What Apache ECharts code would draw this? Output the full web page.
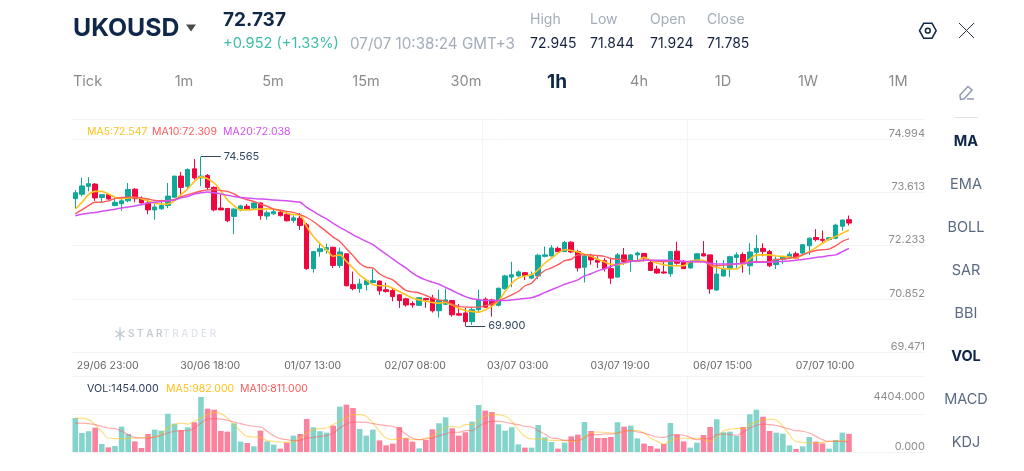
<!DOCTYPE html>
<html>
<head>
<meta charset="utf-8">
<style>html,body{margin:0;padding:0;background:#fff;overflow:hidden}#chart{width:1024px;height:471px}</style>
<script src="https://cdn.jsdelivr.net/npm/echarts@6/dist/echarts.min.js"></script>
</head>
<body>
<div id="chart"></div>
<script>
// Hourly candles as [open, close, low, high]
const candles = [
[73.41,73.57,73.15,73.65],[73.53,73.76,73.47,73.99],[73.75,73.82,73.61,74.00],[73.81,73.43,73.35,73.84],[73.44,73.52,73.31,73.53],
[73.52,73.40,73.38,73.54],[73.22,73.31,73.20,73.43],[73.27,73.35,73.08,73.43],[73.35,73.66,73.31,73.84],[73.67,73.41,73.31,73.70],
[73.41,73.29,73.28,73.47],[73.29,73.10,72.98,73.38],[73.10,73.18,72.83,73.29],[73.13,73.22,73.10,73.38],[73.22,73.48,73.15,73.84],
[73.45,74.03,73.43,74.04],[74.03,73.72,73.47,74.14],[73.75,74.21,73.65,74.25],[74.23,73.98,73.93,74.50],[73.98,74.03,73.75,74.565],
[74.05,73.72,73.65,74.09],[73.72,73.10,73.06,73.75],[73.15,73.10,73.09,73.52],[73.14,72.80,72.76,73.15],[72.92,73.12,72.43,73.15],
[73.10,73.21,73.06,73.24],[73.20,73.11,73.08,73.26],[73.15,73.29,73.10,73.31],[73.29,72.94,72.83,73.31],[72.93,73.02,72.83,73.08],
[72.99,73.05,72.97,73.10],[73.04,72.94,72.92,73.10],[72.98,72.80,72.78,73.06],[72.81,72.88,72.74,72.95],[72.87,72.67,72.55,73.01],
[72.69,71.48,71.45,72.74],[71.48,71.95,71.37,71.97],[71.95,72.03,71.81,72.19],[72.00,72.06,71.89,72.17],[72.07,71.57,71.50,72.08],
[71.57,71.94,71.50,72.06],[71.89,71.01,70.99,71.91],[71.04,70.93,70.88,71.40],[70.93,71.06,70.82,71.20],[71.04,71.15,70.88,71.17],
[71.10,71.15,71.09,71.48],[71.14,70.87,70.76,71.15],[70.90,70.85,70.82,71.09],[70.88,70.71,70.58,70.93],[70.76,70.60,70.40,70.77],
[70.65,70.48,70.43,70.68],[70.52,70.48,70.40,70.58],[70.47,70.68,70.46,70.69],[70.66,70.62,70.40,70.68],[70.67,70.32,70.27,70.76],
[70.32,70.60,70.13,70.90],[70.50,70.62,70.48,70.93],[70.60,70.21,70.16,70.62],[70.24,70.20,70.18,70.51],[70.26,70.02,69.90,70.40],
[70.02,70.35,69.93,70.42],[70.35,70.62,70.26,70.90],[70.64,70.42,70.40,70.69],[70.62,70.48,70.16,70.65],[70.47,70.94,70.44,70.96],
[70.93,71.28,70.90,71.31],[71.25,71.31,70.97,71.67],[71.28,71.39,71.26,71.43],[71.37,71.29,71.17,71.39],[71.22,71.31,71.19,71.40],
[71.28,71.85,71.19,71.89],[71.82,71.86,71.79,72.09],[71.83,72.05,71.82,72.13],[72.04,71.95,71.94,72.09],[71.95,72.20,71.94,72.24],
[72.21,71.94,71.91,72.24],[71.95,71.50,71.40,72.00],[71.52,71.83,71.10,71.86],[71.83,71.72,71.59,71.89],[71.72,71.66,71.50,71.82],
[71.70,71.48,71.40,71.77],[71.48,71.22,71.06,71.78],[71.25,71.86,71.22,71.91],[71.86,71.68,71.59,72.05],[71.68,71.86,71.40,71.88],
[71.86,71.91,71.72,71.95],[71.90,71.77,71.68,71.91],[71.65,71.43,71.42,71.72],[71.47,71.36,71.34,71.56],[71.39,71.36,71.34,71.72],
[71.34,71.95,71.26,71.96],[71.96,71.63,71.59,72.22],[71.66,71.48,71.47,71.72],[71.50,71.68,71.48,71.71],[71.68,71.89,71.67,71.90],
[71.89,71.83,71.82,72.24],[71.86,70.92,70.79,71.87],[70.89,71.33,70.88,71.72],[71.28,71.48,71.26,71.72],[71.48,71.81,71.25,71.83],
[71.79,71.86,71.50,71.93],[71.87,71.61,71.37,71.93],[71.56,71.94,71.31,72.18],[71.93,72.04,71.63,72.41],[72.04,71.95,71.82,72.18],
[71.95,71.56,71.52,72.00],[71.59,71.74,71.47,71.82],[71.74,71.80,71.61,71.83],[71.77,71.88,71.74,71.95],[71.89,71.77,71.74,71.95],
[71.91,72.14,71.88,72.16],[72.11,72.32,71.86,72.34],[72.34,72.28,72.23,72.57],[72.29,72.26,72.18,72.53],[72.28,72.33,72.26,72.35],
[72.32,72.68,72.29,72.72],[72.65,72.82,72.53,72.83],[72.83,72.737,72.67,72.945]
];
const ma5 = [
73.12,73.31,73.52,73.61,73.61,73.54,73.45,73.41,73.43,73.44,73.41,73.35,73.28,73.26,73.26,73.35,73.52,73.68,73.88,74.01,
73.96,73.84,73.63,73.38,73.22,73.10,73.10,73.11,73.12,73.13,73.12,73.08,73.01,72.97,72.95,72.64,72.37,72.17,72.00,71.82,
71.86,71.68,71.50,71.31,71.17,71.04,71.01,71.01,70.94,70.85,70.76,70.67,70.62,70.58,70.55,70.53,70.55,70.48,70.39,70.33,
70.30,70.28,70.35,70.44,70.59,70.85,71.08,71.22,71.28,71.31,71.45,71.63,71.77,71.91,72.00,71.98,71.94,71.88,71.82,71.74,
71.67,71.60,71.59,71.63,71.68,71.70,71.79,71.71,71.63,71.59,71.56,71.56,71.56,71.68,71.72,71.71,71.59,71.51,71.48,71.47,
71.47,71.61,71.74,71.86,71.86,71.86,71.83,71.82,71.80,71.77,71.86,71.95,72.06,72.18,72.29,72.37,72.46,72.547
];
const ma10 = [
72.99,73.10,73.22,73.31,73.31,73.35,73.41,73.44,73.45,73.45,73.43,73.40,73.36,73.35,73.35,73.39,73.46,73.52,73.57,73.62,
73.65,73.66,73.63,73.61,73.54,73.44,73.38,73.33,73.26,73.20,73.12,73.09,73.06,73.03,72.97,72.89,72.78,72.64,72.50,72.35,
72.23,72.03,71.84,71.63,71.52,71.50,71.34,71.24,71.17,71.02,70.88,70.84,70.81,70.74,70.67,70.62,70.58,70.50,70.44,70.42,
70.42,70.42,70.46,70.51,70.60,70.67,70.76,70.85,71.01,71.08,71.28,71.43,71.50,71.59,71.70,71.74,71.86,71.86,71.86,71.84,
71.82,71.76,71.74,71.73,71.70,71.69,71.71,71.71,71.68,71.67,71.69,71.70,71.68,71.67,71.67,71.67,71.59,71.56,71.57,71.59,
71.61,71.63,71.65,71.68,71.67,71.68,71.73,71.74,71.77,71.80,71.86,71.93,71.98,72.00,72.02,72.11,72.23,72.309
];
const ma20 = [
72.94,72.98,73.01,73.03,73.06,73.09,73.12,73.15,73.18,73.21,73.24,73.29,73.31,73.33,73.35,73.37,73.43,73.47,73.54,73.57,
73.59,73.57,73.54,73.50,73.47,73.44,73.43,73.41,73.40,73.39,73.37,73.36,73.35,73.33,73.31,73.17,73.06,72.95,72.85,72.73,
72.62,72.52,72.41,72.32,72.23,72.14,72.01,71.88,71.75,71.62,71.50,71.36,71.25,71.17,71.11,71.05,70.96,70.88,70.79,70.71,
70.65,70.63,70.60,70.60,70.60,70.60,70.62,70.64,70.66,70.68,70.74,70.82,70.90,70.97,71.05,71.11,71.17,71.28,71.34,71.42,
71.47,71.54,71.61,71.65,71.68,71.70,71.71,71.71,71.71,71.71,71.71,71.70,71.68,71.68,71.68,71.67,71.63,71.61,71.61,71.61,
71.61,71.63,71.65,71.66,71.66,71.66,71.67,71.68,71.69,71.71,71.73,71.76,71.79,71.81,71.84,71.86,71.95,72.038
];
const volume = [
2720,1520,1660,1950,640,370,480,2030,1440,850,320,1440,1790,1710,3070,2270,1740,1980,2380,4404,
3470,3390,1680,1630,2300,830,720,450,1710,850,590,270,750,1310,1440,2640,1980,1660,1550,2110,
3630,3790,3520,1840,1310,1790,930,530,670,2000,1120,830,290,960,1820,2300,2780,1900,1310,1580,
2430,3760,3310,3200,2220,1710,1980,610,350,350,2160,1170,800,270,750,1250,1390,2400,1680,1120,
1120,1200,2380,2030,2110,1090,670,480,270,640,2320,1390,850,350,750,1360,2000,2620,1580,1630,
1280,2000,3020,3390,2830,1680,1550,1470,530,240,450,1200,830,690,270,960,1550,1454
];
const volMa5 = [
2720,2720,2590,2190,1660,1120,1070,1070,1070,1120,1120,1170,1170,1440,1920,2190,2320,2240,2460,2720,
2990,3180,3070,2720,2190,1660,1250,1200,1170,910,850,800,770,850,1120,1520,1790,1870,1920,2190,
2460,2720,2990,2990,2860,2320,1660,1120,990,1070,1120,990,990,1120,1250,1660,1980,2060,1980,2190,
2190,2510,2860,2990,2990,2860,2460,1790,1250,1040,1070,990,930,930,930,850,910,1170,1520,1600,
1580,1520,1520,1660,1740,1710,1520,1120,850,640,910,1070,1120,1070,1120,990,850,1170,1660,1840,
1870,1870,2190,2400,2590,2640,2540,2060,1390,850,770,720,720,770,850,850,910,982
];
const volMa10 = [
2320,2320,2270,2190,2060,1920,1870,1660,1390,1170,1120,1120,1200,1340,1520,1660,1710,1710,1920,2320,
2640,2670,2640,2540,2400,2270,2140,2060,2000,1660,1310,1070,990,910,930,1120,1170,1250,1310,1520,
1920,2240,2400,2400,2380,2270,2190,2110,2060,1790,1440,1120,990,1040,1120,1310,1440,1580,1580,1710,
1710,2060,2320,2460,2460,2380,2270,2190,2060,2000,1710,1440,1120,1070,930,930,930,1120,1390,1390,
1440,1440,1520,1660,1710,1600,1520,1340,1200,1170,1340,1390,1340,1170,990,1070,1070,1390,1440,1390,
1340,1580,1920,2140,2240,2190,2140,1980,1840,1710,1660,1520,1250,990,850,850,850,811
];

// Text drawn around the plots
const priceTickLabels = ['69.471', '70.852', '72.233', '73.613', '74.994'];
const dateTickLabels = ['29/06 23:00', '30/06 18:00', '01/07 13:00', '02/07 08:00', '03/07 03:00', '03/07 19:00', '06/07 15:00', '07/07 10:00'];
const periods = ['Tick', '1m', '5m', '15m', '30m', '1h', '4h', '1D', '1W', '1M'];
const indicators = ['MA', 'EMA', 'BOLL', 'SAR', 'BBI', 'VOL', 'MACD', 'KDJ'];
const quoteNames = ['High', 'Low', 'Open', 'Close'];
const quoteValues = ['72.945', '71.844', '71.924', '71.785'];
const highest = 74.565, lowest = 69.9;

const FONT = 'Inter, "Open Sans", sans-serif';
const INK = '#0f2748', TEAL = '#0fa89b', RED = '#f0063f';
const YELLOW = '#ffc21a', CORAL = '#ff5a5a', VIOLET = '#d450f2';
const GRID = '#f3f4f5';

const SLOTS = 129;               // bar slots across the plot, the last ones stay empty
const slotNames = Array.from({length: SLOTS}, (_, i) => String(i));
const X_MIN = -0.5, X_MAX = SLOTS - 0.5;
const dateTicks = dateTickLabels.map((_, k) => 4.9 + 15.5 * k);
const vLines = [30.5, 61.5, 92.5, 123.5];

const P_MIN = 69.184, P_MAX = 75.604, P_STEP = 1.467;
const priceLines = [0, 1, 2, 3, 4].map(k => +(P_MIN + k * P_STEP).toFixed(3));
const V_MAX = 6086;

function maLine(name, data, color, ax, width, opacity, smooth) {
  return {
    name, type: 'line', data, xAxisIndex: ax, yAxisIndex: ax === 0 ? 0 : 1,
    showSymbol: false, smooth, silent: true,
    lineStyle: {color, width, opacity}, z: 5
  };
}

// Leader from an extreme candle's wick to its printed price
function extremeMark(idx, value, endIdx) {
  return [
    {coord: [idx, value], label: {formatter: value.toFixed(3)}},
    {coord: [endIdx, value]}
  ];
}

function T(x, y, text, size, fill, opt) {
  return {
    type: 'text', x, y, silent: true,
    style: Object.assign({
      text, fontSize: size, fill, fontFamily: FONT,
      align: 'left', verticalAlign: 'middle', fontWeight: 400
    }, opt || {})
  };
}

const periodX = [73, 184, 273, 366, 466, 557, 639, 723, 808, 898];
const quoteX = [530, 590, 650, 707];
const indicatorY = [142, 185, 228, 271, 314, 357, 400, 443];
const bold = {MA: 1, VOL: 1};

const overlay = [
  T(73, 29, 'UKOUSD', 24.8, INK, {fontWeight: 700}),
  {type: 'polygon', silent: true, shape: {points: [[186, 24.5], [196, 24.5], [191, 31.5]]}, style: {fill: '#4a4a4a'}},
  T(223, 20, '72.737', 19, INK, {fontWeight: 700}),
  T(223, 44, '+0.952 (+1.33%)', 14.6, '#3dbdaa'),
  T(350, 44, '07/07 10:38:24 GMT+3', 15.2, '#a4adbb'),
  {type: 'polygon', silent: true, shape: {points: [[919.5, 30.7], [923.7, 23.3], [932, 23.3], [936.2, 30.7], [932, 38.2], [923.7, 38.2]]}, style: {fill: 'none', stroke: INK, lineWidth: 1.5}},
  {type: 'circle', silent: true, shape: {cx: 927.8, cy: 30.7, r: 2.4}, style: {fill: 'none', stroke: INK, lineWidth: 1.5}},
  {type: 'line', silent: true, shape: {x1: 959, y1: 23, x2: 974, y2: 38}, style: {stroke: '#2a3346', lineWidth: 1}},
  {type: 'line', silent: true, shape: {x1: 974, y1: 23, x2: 959, y2: 38}, style: {stroke: '#2a3346', lineWidth: 1}},
  // drawing tool pencil and the divider below it
  {type: 'polygon', silent: true, shape: {points: [[960, 95], [968, 86.5], [972, 90], [964, 99], [960.5, 99.5]]}, style: {fill: 'none', stroke: '#8f9bb0', lineWidth: 1.5}},
  {type: 'line', silent: true, shape: {x1: 967, y1: 99, x2: 974, y2: 99}, style: {stroke: '#8f9bb0', lineWidth: 1.5}},
  {type: 'line', silent: true, shape: {x1: 955, y1: 117.5, x2: 978, y2: 117.5}, style: {stroke: '#dfe2e7', lineWidth: 1}},
  // moving average read-outs
  T(87, 132, 'MA5:72.547', 10.5, YELLOW),
  T(152, 132, 'MA10:72.309', 10.5, CORAL),
  T(223, 132, 'MA20:72.038', 10.5, VIOLET),
  T(87, 389, 'VOL:1454.000', 10.7, '#2c3d5a'),
  T(166, 389, 'MA5:982.000', 10.5, YELLOW),
  T(240, 389, 'MA10:811.000', 10.5, CORAL),
  // brand mark inside the price plot
  {type: 'line', silent: true, shape: {x1: 120, y1: 329, x2: 120, y2: 339}, style: {stroke: '#c2c7d2', lineWidth: 1.5}},
  {type: 'line', silent: true, shape: {x1: 115.5, y1: 331, x2: 124.5, y2: 337}, style: {stroke: '#c2c7d2', lineWidth: 1.5}},
  {type: 'line', silent: true, shape: {x1: 115.5, y1: 337, x2: 124.5, y2: 331}, style: {stroke: '#c2c7d2', lineWidth: 1.5}},
  {type: 'circle', silent: true, shape: {cx: 120, cy: 328, r: 0.8}, style: {fill: '#7fdcd2'}},
  {type: 'circle', silent: true, shape: {cx: 120, cy: 340, r: 0.8}, style: {fill: '#7fdcd2'}},
  T(128, 334, 'S T A R', 10, '#c5cad4', {fontWeight: 600}),
  T(163, 334, 'T R A D E R', 10, '#dfe2e8', {fontWeight: 500})
];
periods.forEach((p, i) => {
  const on = p === '1h';
  overlay.push(T(periodX[i], 82, p, on ? 19 : 14.5, on ? INK : '#8b8b8b', {
    align: i === 0 ? 'left' : 'center', fontWeight: on ? 700 : 400
  }));
});
quoteNames.forEach((n, i) => {
  overlay.push(T(quoteX[i], 20, n, 14, '#a4adbb'));
  overlay.push(T(quoteX[i], 44, quoteValues[i], 14, '#15233f'));
});
indicators.forEach((n, i) => {
  overlay.push(T(966, indicatorY[i], n, 14.5, bold[n] ? INK : '#5b6a82', {
    align: 'center', fontWeight: bold[n] ? 700 : 400
  }));
});

const chart = echarts.init(document.getElementById('chart'));
chart.setOption({
  animation: false,
  backgroundColor: '#fff',
  grid: [
    {left: 72, top: 119, width: 853, height: 233},
    {left: 72, top: 376, width: 853, height: 76}
  ],
  xAxis: [
    {type: 'category', gridIndex: 0, data: slotNames, show: false},
    {type: 'category', gridIndex: 1, data: slotNames, show: false},
    {
      type: 'value', gridIndex: 0, min: X_MIN, max: X_MAX, position: 'bottom',
      axisLine: {show: false},
      axisTick: {show: false, customValues: vLines},
      splitLine: {show: true, lineStyle: {color: GRID, width: 1}, showMinLine: false, showMaxLine: false},
      axisLabel: {
        customValues: dateTicks, color: '#666', fontSize: 10.5, fontFamily: FONT, margin: 8,
        hideOverlap: false,
        formatter: v => dateTickLabels[dateTicks.indexOf(v)] || ''
      }
    },
    {
      type: 'value', gridIndex: 1, min: X_MIN, max: X_MAX, position: 'bottom',
      axisLine: {show: false},
      axisTick: {show: false, customValues: vLines},
      splitLine: {show: true, lineStyle: {color: GRID, width: 1}, showMinLine: false, showMaxLine: false},
      axisLabel: {show: false}
    }
  ],
  yAxis: [
    {
      type: 'value', gridIndex: 0, min: P_MIN, max: P_MAX, position: 'right', scale: true,
      axisLine: {show: false},
      axisTick: {show: false, customValues: priceLines.concat([P_MAX])},
      splitLine: {show: true, lineStyle: {color: GRID, width: 1}},
      axisLabel: {
        inside: true, margin: 0, customValues: priceLines, color: '#8e8e8e', fontSize: 11,
        fontFamily: FONT, verticalAlign: 'bottom', hideOverlap: false,
        formatter: v => priceTickLabels[priceLines.indexOf(v)] || ''
      }
    },
    {
      type: 'value', gridIndex: 1, min: 0, max: V_MAX, position: 'right',
      axisLine: {show: false},
      axisTick: {show: false, customValues: [0, V_MAX / 2, V_MAX]},
      splitLine: {show: true, lineStyle: {color: GRID, width: 1}},
      axisLabel: {
        inside: true, margin: 0, customValues: [0, 4404], color: '#8e8e8e', fontSize: 11,
        fontFamily: FONT, hideOverlap: false, verticalAlignMinLabel: 'bottom',
        formatter: v => v.toFixed(3)
      }
    }
  ],
  series: [
    {
      name: 'UKOUSD', type: 'candlestick', data: candles, xAxisIndex: 0, yAxisIndex: 0,
      barWidth: 5, silent: true, z: 3,
      itemStyle: {color: TEAL, color0: RED, borderColor: TEAL, borderColor0: RED, borderWidth: 1},
      markLine: {
        silent: true, symbol: 'none', animation: false,
        lineStyle: {color: '#33465f', width: 1, type: 'solid'},
        label: {position: 'end', color: '#33465f', fontSize: 11, fontFamily: FONT, distance: 3},
        data: [extremeMark(19, highest, 22), extremeMark(59, lowest, 62)]
      }
    },
    maLine('MA5', ma5, YELLOW, 0, 1.6, 1, 0.3),
    maLine('MA10', ma10, CORAL, 0, 1.4, 1, 0.3),
    maLine('MA20', ma20, VIOLET, 0, 1.5, 1, 0.3),
    {
      name: 'VOL', type: 'bar', data: volume.map((v, i) => ({
        value: v,
        itemStyle: {color: candles[i][1] >= candles[i][0] ? '#85d4cc' : '#fa829e'}
      })),
      xAxisIndex: 1, yAxisIndex: 1, barWidth: 5.6, silent: true, z: 2
    },
    maLine('VOL MA5', volMa5, YELLOW, 1, 1.2, 0.55, true),
    maLine('VOL MA10', volMa10, CORAL, 1, 1.2, 0.5, true)
  ],
  graphic: {elements: overlay}
});
</script>
</body>
</html>
